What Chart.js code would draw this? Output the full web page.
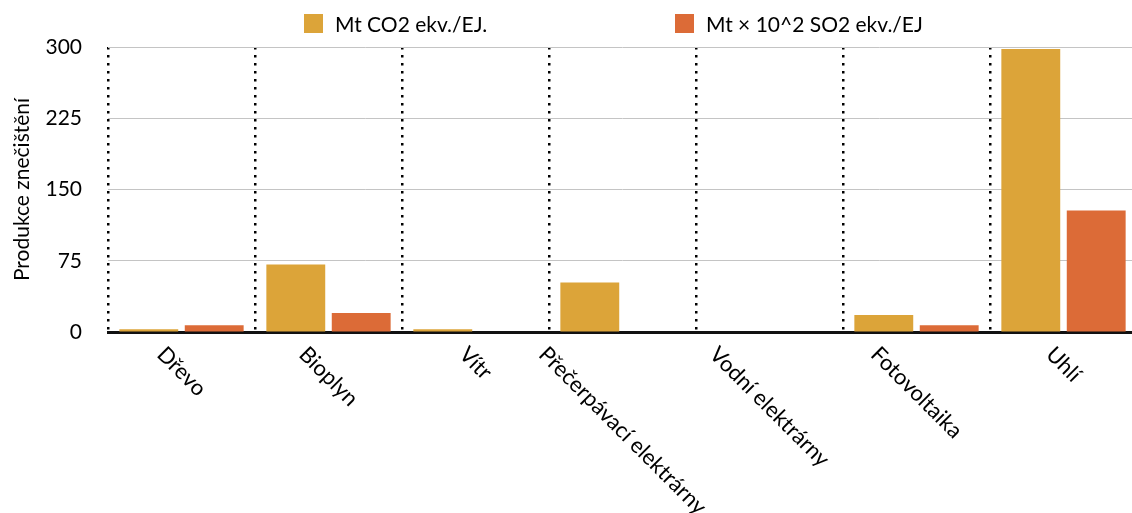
<!DOCTYPE html>
<html>
<head>
<meta charset="utf-8">
<script src="https://cdn.jsdelivr.net/npm/chart.js@4/dist/chart.umd.min.js"></script>
<style>
  body { margin: 0; background: #fff; overflow: hidden; }
  #wrap { position: relative; width: 1132px; height: 513px; overflow: hidden; }
  #legend { position: absolute; top: 0; left: 0; width: 1132px; height: 45px; font-family: Lato, 'Open Sans', sans-serif; font-size: 21px; color: #000; }
  .item { position: absolute; top: 14px; display: flex; align-items: center; height: 19px; white-space: nowrap; }
  .box { width: 19px; height: 19px; margin-right: 12px; }
</style>
</head>
<body>
<div id="wrap">
  <canvas id="chart" width="1140" height="513"></canvas>
  <div id="legend"></div>
</div>
<script>
const categories = ['Dřevo', 'Bioplyn', 'Vítr', 'Přečerpávací elektrárny', 'Vodní elektrárny', 'Fotovoltaika', 'Uhlí'];
const co2Values = [3, 71, 3, 52, 0, 18, 298];
const so2Values = [7, 20, 0, 0, 0, 7, 128];
const seriesNames = ['Mt CO2 ekv./EJ.', 'Mt × 10^2 SO2 ekv./EJ'];
const yTicks = [0, 75, 150, 225, 300];
const yTitle = 'Produkce znečištění';

const colors = ['#DCA439', '#DC6B37'];
const fontFamily = "Lato, 'Open Sans', sans-serif";

// x labels rotated 45deg clockwise, box centred on the category
const rotatedLabels = {
    id: 'rotatedLabels',
    afterDraw(chart) {
        const ctx = chart.ctx;
        const xScale = chart.scales.x;
        const size = 22;
        const top = 343;
        ctx.save();
        ctx.font = `${size}px ${fontFamily}`;
        ctx.fillStyle = '#000';
        ctx.textAlign = 'left';
        ctx.textBaseline = 'top';
        categories.forEach((label, i) => {
            const cx = xScale.getPixelForTick(i);
            const w = ctx.measureText(label).width;
            const px = cx - (w - size) / (2 * Math.SQRT2);
            ctx.save();
            ctx.translate(px, top);
            ctx.rotate(Math.PI / 4);
            ctx.fillText(label, 0, 0);
            ctx.restore();
        });
        ctx.restore();
    }
};

const chart = new Chart(document.getElementById('chart').getContext('2d'), {
    type: 'bar',
    data: {
        labels: categories,
        datasets: [
            {
                label: seriesNames[0],
                data: co2Values,
                backgroundColor: colors[0],
                categoryPercentage: 0.89,
                barPercentage: 0.9,
            },
            {
                label: seriesNames[1],
                data: so2Values,
                backgroundColor: colors[1],
                categoryPercentage: 0.89,
                barPercentage: 0.9,
            },
        ],
    },
    options: {
        responsive: false,
        animation: false,
        layout: { padding: { top: 47, right: 3, bottom: 0, left: 0 } },
        plugins: {
            legend: { display: false },
            tooltip: { enabled: false },
        },
        scales: {
            x: {
                grid: { color: '#000', lineWidth: 2.5, drawTicks: false, offset: true },
                border: { display: true, color: '#111', width: 3, dash: [2.5, 5.5] },
                ticks: { display: false },
                afterFit: (scale) => { scale.height = 181; },
            },
            y: {
                min: 0,
                max: 300,
                afterBuildTicks: (scale) => { scale.ticks = yTicks.map((v) => ({ value: v })); },
                grid: { color: '#c4c4c4', lineWidth: 1, drawTicks: false },
                border: { display: false },
                ticks: { color: '#000', padding: 26, font: { family: fontFamily, size: 21 } },
                title: {
                    display: true,
                    text: yTitle,
                    color: '#000',
                    font: { family: fontFamily, size: 21 },
                    padding: { top: 10, bottom: 0 },
                },
                afterFit: (scale) => { scale.width = 108; },
            },
        },
    },
    plugins: [rotatedLabels],
});

// legend as html
const legend = document.getElementById('legend');
const legendLeft = [304, 675];
chart.data.datasets.forEach((ds, i) => {
    const item = document.createElement('div');
    item.className = 'item';
    item.style.left = legendLeft[i] + 'px';
    const box = document.createElement('span');
    box.className = 'box';
    box.style.background = ds.backgroundColor;
    const text = document.createElement('span');
    text.innerText = ds.label;
    item.appendChild(box);
    item.appendChild(text);
    legend.appendChild(item);
});
</script>
</body>
</html>
